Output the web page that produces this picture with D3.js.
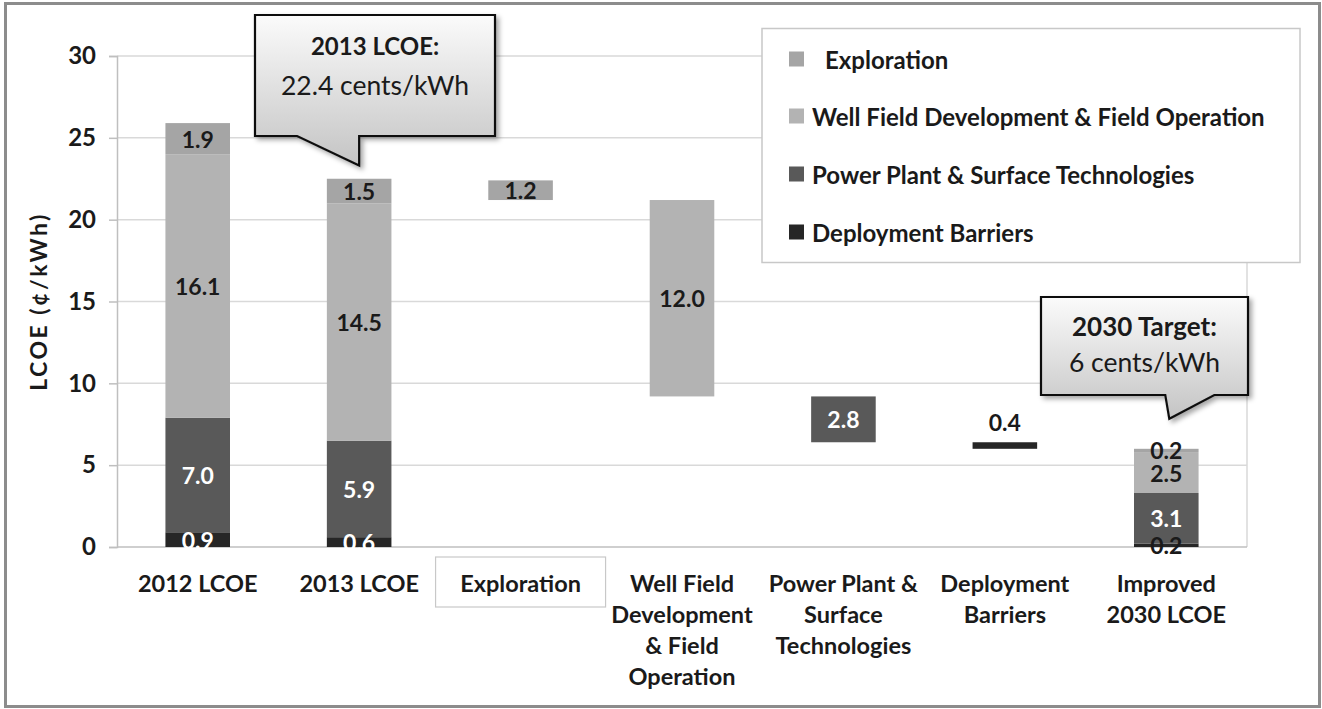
<!DOCTYPE html>
<html>
<head>
<meta charset="utf-8">
<script src="https://cdn.jsdelivr.net/npm/d3@7"></script>
<style>
  body { margin: 0; background: #fff; }
  svg text { font-family: Lato, "Open Sans", sans-serif; }
</style>
</head>
<body>
<svg id="chart" width="1322" height="709"></svg>
<script>
// categories and their wrapped tick lines
const categories = ["2012 LCOE", "2013 LCOE", "Exploration", "Well Field", "Power Plant", "Deployment", "Improved 2030"];
const catLines = [
  ["2012 LCOE"],
  ["2013 LCOE"],
  ["Exploration"],
  ["Well Field", "Development", "& Field", "Operation"],
  ["Power Plant &", "Surface", "Technologies"],
  ["Deployment", "Barriers"],
  ["Improved", "2030 LCOE"]
];

// invisible base for the floating (waterfall) bars
const base        = [0, 0, 21.2, 9.2, 6.4, 6.0, 0];
const deployment  = [0.9, 0.6, 0, 0, 0, 0.4, 0.2];
const powerPlant  = [7.0, 5.9, 0, 0, 2.8, 0, 3.1];
const wellField   = [16.1, 14.5, 0, 12.0, 0, 0, 2.5];
const exploration = [1.9, 1.5, 1.2, 0, 0, 0, 0.2];

const seriesNames = ["Exploration", "Well Field Development & Field Operation", "Power Plant & Surface Technologies", "Deployment Barriers"];
const seriesColors = ["#a5a5a5", "#b3b3b3", "#595959", "#262626"];
const yTicks = [0, 5, 10, 15, 20, 25, 30];

const svg = d3.select("#chart");

// outer frame
svg.append("rect")
  .attr("x", 5.5).attr("y", 3.5).attr("width", 1314).attr("height", 703)
  .attr("fill", "#fff").attr("stroke", "#8c8c8c").attr("stroke-width", 3);

const x = d3.scaleBand().domain(categories).range([117, 1247]).paddingInner(0.6).paddingOuter(0.3);
const y = d3.scaleLinear().domain([0, 30]).range([547, 56]);

// gridlines
svg.append("g").selectAll("line").data(yTicks.slice(1)).join("line")
  .attr("x1", 117).attr("x2", 1247)
  .attr("y1", d => y(d)).attr("y2", d => y(d))
  .attr("stroke", "#d9d9d9").attr("stroke-width", 1.5);

// right border of the plot area
svg.append("line").attr("x1", 1247).attr("x2", 1247).attr("y1", y(30)).attr("y2", y(0))
  .attr("stroke", "#d9d9d9").attr("stroke-width", 1.5);

// y axis
const yAxis = svg.append("g").attr("transform", "translate(117,0)")
  .call(d3.axisLeft(y).tickValues(yTicks).tickSize(8).tickPadding(13));
yAxis.select(".domain").attr("stroke", "#bfbfbf").attr("stroke-width", 1.5);
yAxis.selectAll(".tick line").attr("stroke", "#bfbfbf").attr("stroke-width", 1.5);
yAxis.selectAll(".tick text").attr("font-size", 24).attr("font-weight", "bold").attr("fill", "#1a1a1a")
  .style("font-family", "Lato, sans-serif");

// x axis baseline
svg.append("line").attr("x1", 117).attr("x2", 1247).attr("y1", y(0)).attr("y2", y(0))
  .attr("stroke", "#bfbfbf").attr("stroke-width", 1.5);

svg.append("text")
  .attr("transform", `translate(38,${(y(0) + y(30)) / 2}) rotate(-90)`)
  .attr("text-anchor", "middle").attr("dominant-baseline", "central")
  .attr("font-size", 23).attr("font-weight", "bold").attr("fill", "#1a1a1a")
  .attr("letter-spacing", 2.5)
  .text("LCOE (¢/kWh)");

// stacked data
const rows = categories.map((c, i) => ({
  cat: c, base: base[i], d: deployment[i], p: powerPlant[i], w: wellField[i], e: exploration[i]
}));
const keys = ["base", "d", "p", "w", "e"];
const colorByKey = { d: seriesColors[3], p: seriesColors[2], w: seriesColors[1], e: seriesColors[0] };
const stacked = d3.stack().keys(keys)(rows);

const bw = x.bandwidth();
const layers = svg.append("g").selectAll("g").data(stacked.filter(s => s.key !== "base")).join("g")
  .attr("fill", s => colorByKey[s.key]);

layers.selectAll("rect").data(s => s.filter(d => d[1] - d[0] > 0)).join("rect")
  .attr("x", d => x(d.data.cat))
  .attr("y", d => y(d[1]))
  .attr("width", bw)
  .attr("height", d => y(d[0]) - y(d[1]));

// data labels
const labels = [];
stacked.filter(s => s.key !== "base").forEach(s => {
  s.forEach(d => {
    const v = d[1] - d[0];
    if (v <= 0) return;
    const dark = s.key === "d" || s.key === "p";
    let cy = y((d[0] + d[1]) / 2);
    let fill = dark ? "#ffffff" : "#1a1a1a";
    // thin floating bar: label sits above
    if (d.data.base > 0 && y(d[0]) - y(d[1]) < 14) { cy = y(d[1]) - 20; fill = "#1a1a1a"; }
    else if (s.key === "d" && v < 0.5) fill = "#1a1a1a";
    labels.push({ x: x(d.data.cat) + bw / 2, y: cy, text: v.toFixed(1), fill });
  });
});
svg.append("g").selectAll("text").data(labels).join("text")
  .attr("x", d => d.x).attr("y", d => d.y)
  .attr("text-anchor", "middle").attr("dominant-baseline", "central")
  .attr("font-size", 23).attr("font-weight", "bold")
  .attr("fill", d => d.fill)
  .text(d => d.text);

// category labels
const catG = svg.append("g").selectAll("g").data(categories).join("g")
  .attr("transform", d => `translate(${x(d) + bw / 2},0)`);
catG.filter(d => d === "Exploration").append("rect")
  .attr("x", -85).attr("y", 557).attr("width", 170).attr("height", 50)
  .attr("fill", "#fff").attr("stroke", "#c8c8c8").attr("stroke-width", 1.2);
catG.selectAll("text").data((d, i) => catLines[i]).join("text")
  .attr("x", 0).attr("y", (d, i) => 583 + i * 31)
  .attr("text-anchor", "middle").attr("dominant-baseline", "central")
  .attr("font-size", 23.5).attr("font-weight", "bold").attr("fill", "#1a1a1a")
  .text(d => d);

// legend
const legend = svg.append("g");
legend.append("rect").attr("x", 762).attr("y", 28.5).attr("width", 538).attr("height", 234)
  .attr("fill", "#fff").attr("stroke", "#c8c8c8").attr("stroke-width", 1.5);
const legY = [59, 116, 174, 232];
const li = legend.selectAll("g.item").data(seriesNames).join("g").attr("class", "item")
  .attr("transform", (d, i) => `translate(789,${legY[i]})`);
li.append("rect").attr("x", 0).attr("y", -7.5).attr("width", 15).attr("height", 15)
  .attr("fill", (d, i) => seriesColors[i]);
li.append("text").attr("x", (d, i) => i === 0 ? 36 : 23).attr("y", 0)
  .attr("dominant-baseline", "central")
  .attr("font-size", 24).attr("font-weight", "bold").attr("fill", "#1a1a1a")
  .text(d => d);

// callouts
const defs = svg.append("defs");
const grad = defs.append("linearGradient").attr("id", "cg").attr("x1", 0).attr("y1", 0).attr("x2", 0).attr("y2", 1);
grad.append("stop").attr("offset", "0%").attr("stop-color", "#fbfbfb");
grad.append("stop").attr("offset", "100%").attr("stop-color", "#c4c4c4");
const shadow = defs.append("filter").attr("id", "sh").attr("x", "-10%").attr("y", "-10%").attr("width", "130%").attr("height", "140%");
shadow.append("feDropShadow").attr("dx", 3).attr("dy", 3).attr("stdDeviation", 2.5)
  .attr("flood-color", "#000").attr("flood-opacity", 0.35);

function callout(box, tip, baseL, baseR, lines) {
  const [x0, y0, x1, y1] = box;
  const path = `M${x0},${y0} H${x1} V${y1} H${baseR} L${tip[0]},${tip[1]} L${baseL},${y1} H${x0} Z`;
  svg.append("path").attr("d", path).attr("fill", "url(#cg)")
    .attr("stroke", "#111").attr("stroke-width", 2.2).attr("filter", "url(#sh)");
  const cx = (x0 + x1) / 2;
  lines.forEach(l => {
    svg.append("text").attr("x", cx).attr("y", l.y).attr("text-anchor", "middle")
      .attr("dominant-baseline", "central")
      .attr("font-size", l.size).attr("font-weight", l.bold ? "bold" : "normal").attr("fill", "#1a1a1a")
      .text(l.t);
  });
}

const c1x = x("2013 LCOE") + bw / 2;
callout([255, 15, 495, 136], [c1x, y(22.4) - 15], c1x - 62, c1x, [
  { t: "2013 LCOE:", y: 45, bold: true, size: 24 },
  { t: "22.4 cents/kWh", y: 85, bold: false, size: 26.5 }
]);
const c2x = x("Improved 2030") + bw / 2;
callout([1041, 297, 1248, 395], [c2x + 3, y(6) - 30], c2x - 1, c2x + 48, [
  { t: "2030 Target:", y: 326, bold: true, size: 26 },
  { t: "6 cents/kWh", y: 362, bold: false, size: 26.5 }
]);
</script>
</body>
</html>
